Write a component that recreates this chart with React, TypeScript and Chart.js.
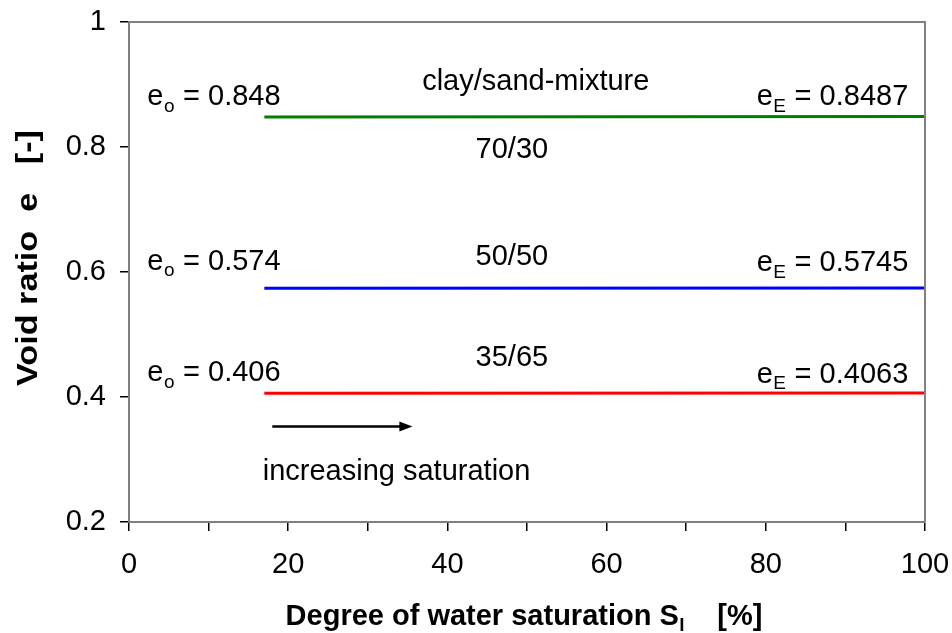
import React, { useEffect, useRef } from "react";
import { Chart, registerables } from "chart.js";

Chart.register(...registerables);

// ---- data ----
const xTickValues = [0, 10, 20, 30, 40, 50, 60, 70, 80, 90, 100];
const xLabelValues = [0, 20, 40, 60, 80, 100];
const yTickValues = [0.2, 0.4, 0.6, 0.8, 1];

const mix7030X = [17, 100];
const mix7030Y = [0.848, 0.8487];
const mix5050X = [17, 100];
const mix5050Y = [0.574, 0.5745];
const mix3565X = [17, 100];
const mix3565Y = [0.406, 0.4063];

const arrowX = [18, 35.6];
const arrowY = [0.353, 0.353];

// annotation texts: [main, subscript, rest]
const annoParts: string[][] = [
  ["e", "o", " = 0.848"],
  ["clay/sand-mixture", "", ""],
  ["e", "E", " = 0.8487"],
  ["70/30", "", ""],
  ["e", "o", " = 0.574"],
  ["50/50", "", ""],
  ["e", "E", " = 0.5745"],
  ["e", "o", " = 0.406"],
  ["35/65", "", ""],
  ["e", "E", " = 0.4063"],
  ["increasing saturation", "", ""],
];
const annoX = [2.3, 51.1, 97.9, 48.1, 2.3, 48.1, 97.9, 2.3, 48.1, 97.9, 16.8];
const annoY = [0.867, 0.891, 0.867, 0.783, 0.604, 0.612, 0.601, 0.425, 0.449, 0.423, 0.268];
const annoAlign = ["left", "center", "right", "center", "left", "center", "right", "left", "center", "right", "left"];

const xTitleParts = ["Degree of water saturation S", "l", "    [%]"];
const yTitleParts = ["Void ratio  e   [-]", "", ""];

const FAMILY = "'Liberation Sans', Arial, Helvetica, sans-serif";

function drawRich(
  ctx: CanvasRenderingContext2D,
  parts: string[],
  x: number,
  y: number,
  align: string,
  size: number,
  bold: boolean,
  stretch = 1
) {
  const w = bold ? "bold " : "";
  const mainFont = `${w}${size}px ${FAMILY}`;
  const subFont = `${w}${Math.round(size * 0.66)}px ${FAMILY}`;
  ctx.font = mainFont;
  const w0 = ctx.measureText(parts[0]).width;
  const w2 = ctx.measureText(parts[2]).width;
  ctx.font = subFont;
  const w1 = parts[1] ? ctx.measureText(parts[1]).width + 1 : 0;
  const total = w0 + w1 + w2;
  let sx = 0;
  if (align === "center") sx = -total / 2;
  else if (align === "right") sx = -total;
  ctx.save();
  ctx.translate(x, y);
  ctx.scale(stretch, 1);
  ctx.textAlign = "left";
  ctx.textBaseline = "alphabetic";
  ctx.fillStyle = "#000";
  ctx.font = mainFont;
  ctx.fillText(parts[0], sx, 0);
  if (parts[1]) {
    ctx.font = subFont;
    ctx.fillText(parts[1], sx + w0 + 0.5, size * 0.22);
  }
  ctx.font = mainFont;
  ctx.fillText(parts[2], sx + w0 + w1, 0);
  ctx.restore();
}

const decoPlugin = {
  id: "deco",
  afterDatasetsDraw(chart: any) {
    const { ctx, chartArea, scales } = chart;
    const xs = scales.x;
    const ys = scales.y;
    ctx.save();
    // plot frame (top, right)
    ctx.strokeStyle = "#808080";
    ctx.lineWidth = 2;
    ctx.beginPath();
    ctx.moveTo(chartArea.left, chartArea.top);
    ctx.lineTo(chartArea.right, chartArea.top);
    ctx.lineTo(chartArea.right, chartArea.bottom);
    ctx.stroke();

    // arrow
    const ax0 = xs.getPixelForValue(arrowX[0]);
    const ax1 = xs.getPixelForValue(arrowX[1]);
    const ay = ys.getPixelForValue(arrowY[0]);
    ctx.strokeStyle = "#000";
    ctx.fillStyle = "#000";
    ctx.lineWidth = 2.5;
    ctx.beginPath();
    ctx.moveTo(ax0, ay);
    ctx.lineTo(ax1 - 10, ay);
    ctx.stroke();
    ctx.beginPath();
    ctx.moveTo(ax1, ay);
    ctx.lineTo(ax1 - 13, ay - 5);
    ctx.lineTo(ax1 - 13, ay + 5);
    ctx.closePath();
    ctx.fill();

    // annotations
    for (let i = 0; i < annoParts.length; i++) {
      drawRich(ctx, annoParts[i], xs.getPixelForValue(annoX[i]), ys.getPixelForValue(annoY[i]), annoAlign[i], 29, false);
    }

    // axis titles
    const cx = (chartArea.left + chartArea.right) / 2 - 3;
    drawRich(ctx, xTitleParts, cx, chart.height - 8, "center", 29, true);
    ctx.translate(37, (chartArea.top + chartArea.bottom) / 2 - 14);
    ctx.rotate(-Math.PI / 2);
    drawRich(ctx, yTitleParts, 0, 0, "center", 29, true, 1.18);
    ctx.restore();
  },
};

function mkData(xs: number[], ys: number[]) {
  return xs.map((x, i) => ({ x, y: ys[i] }));
}

export default function App() {
  const ref = useRef<HTMLCanvasElement>(null);
  useEffect(() => {
    if (!ref.current) return;
    const chart = new Chart(ref.current, {
      type: "scatter",
      data: {
        datasets: [
          { data: mkData(mix7030X, mix7030Y), borderColor: "#008000", borderWidth: 3, showLine: true, pointRadius: 0 },
          { data: mkData(mix5050X, mix5050Y), borderColor: "#0000FF", borderWidth: 3, showLine: true, pointRadius: 0 },
          { data: mkData(mix3565X, mix3565Y), borderColor: "#FF0000", borderWidth: 3, showLine: true, pointRadius: 0 },
        ],
      },
      options: {
        responsive: false,
        animation: false,
        layout: { padding: { left: 0, top: 22, right: 27, bottom: 0 } },
        plugins: { legend: { display: false }, tooltip: { enabled: false }, title: { display: false } },
        scales: {
          x: {
            type: "linear",
            min: 0,
            max: 100,
            afterFit: (s: any) => { s.height = 111; s.paddingLeft = 0; s.paddingRight = 0; },
            afterBuildTicks: (s: any) => { s.ticks = xTickValues.map((v) => ({ value: v })); },
            ticks: {
              color: "#000",
              padding: 17,
              maxRotation: 0,
              autoSkip: false,
              font: { family: FAMILY, size: 29 },
              callback: (v: any) => (xLabelValues.includes(Number(v)) ? String(v) : ""),
            },
            grid: { display: true, drawOnChartArea: false, drawTicks: true, tickLength: 9, color: "#000", lineWidth: 1.5 },
            border: { display: true, color: "#808080", width: 2 },
          },
          y: {
            type: "linear",
            min: 0.2,
            max: 1,
            afterFit: (s: any) => { s.width = 129; s.paddingTop = 0; s.paddingBottom = 0; },
            afterBuildTicks: (s: any) => { s.ticks = yTickValues.map((v) => ({ value: v })); },
            ticks: {
              color: "#000",
              padding: 14,
              autoSkip: false,
              font: { family: FAMILY, size: 29 },
              callback: (v: any) => (Number(v) === 1 ? "1" : Number(v).toFixed(1)),
            },
            grid: { display: true, drawOnChartArea: false, drawTicks: true, tickLength: 9, color: "#000", lineWidth: 1.5 },
            border: { display: true, color: "#808080", width: 2 },
          },
        },
      },
      plugins: [decoPlugin],
    } as any);
    return () => chart.destroy();
  }, []);
  return (
    <canvas
      ref={ref}
      width={952}
      height={633}
      style={{ position: "absolute", left: 0, top: 0, width: 952, height: 633, background: "#fff" }}
    />
  );
}
